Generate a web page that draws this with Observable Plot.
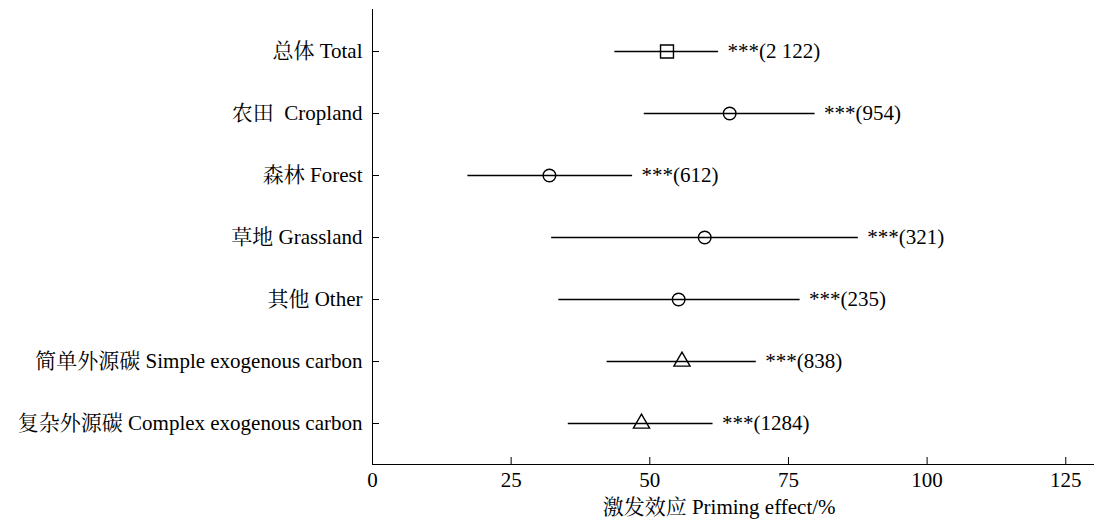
<!DOCTYPE html>
<html><head><meta charset="utf-8">
<script src="https://cdn.jsdelivr.net/npm/d3@7"></script>
<script src="https://cdn.jsdelivr.net/npm/@observablehq/plot@0.6"></script>
<style>body{margin:0;background:#fff}</style>
</head><body><div id="chart"></div>
<script>
const categories = ["总体 Total","农田\u00A0\u00A0Cropland","森林 Forest","草地 Grassland","其他 Other","简单外源碳 Simple exogenous carbon","复杂外源碳 Complex exogenous carbon"];
const means = [53.1, 64.4, 31.9, 59.9, 55.2, 55.8, 48.5];
const lows  = [43.7, 49.0, 17.2, 32.3, 33.6, 42.3, 35.3];
const highs = [62.4, 79.8, 46.9, 87.6, 77.1, 69.2, 61.4];
const labels = ["***(2 122)","***(954)","***(612)","***(321)","***(235)","***(838)","***(1284)"];
const shapes = ["square","circle","circle","circle","circle","triangle","triangle"];
const xTicks = [0, 25, 50, 75, 100, 125];
const xTitle = "激发效应 Priming effect/%";

const data = categories.map((c, i) => ({cat: c, mean: means[i], low: lows[i], high: highs[i], label: labels[i], shape: shapes[i]}));
const font = "'Liberation Serif','Times New Roman','Noto Serif CJK SC','Noto Sans CJK SC',serif";

const plot = Plot.plot({
  width: 1096, height: 522,
  marginLeft: 372, marginRight: 3, marginTop: 9, marginBottom: 58,
  style: {fontFamily: font, fontSize: "21px", color: "#000", background: "#fff"},
  x: {domain: [0, 130], ticks: xTicks, tickSize: -7, tickPadding: 15, label: null, line: true},
  y: {type: "point", domain: categories, padding: 0.64, tickSize: -7, tickPadding: 17, label: null, line: true},
  marks: [
    Plot.ruleY(data, {y: "cat", x1: "low", x2: "high", stroke: "#000", strokeWidth: 1.3}),
    Plot.dot(data.filter(d => d.shape === "square"), {x: "mean", y: "cat", symbol: "square", r: 7.3, fill: "none", stroke: "#000", strokeWidth: 1.4}),
    Plot.dot(data.filter(d => d.shape === "circle"), {x: "mean", y: "cat", symbol: "circle", r: 6.3, fill: "none", stroke: "#000", strokeWidth: 1.4}),
    Plot.dot(data.filter(d => d.shape === "triangle"), {x: "mean", y: "cat", symbol: "triangle", r: 6, fill: "none", stroke: "#000", strokeWidth: 1.4}),
    Plot.text(data, {x: "high", y: "cat", text: "label", textAnchor: "start", dx: 9, fill: "#000"}),
    Plot.text([xTitle], {x: (xTicks[0] + xTicks[xTicks.length - 1]) / 2, frameAnchor: "bottom", lineAnchor: "middle", dy: 43, text: d => d, fill: "#000"})
  ]
});
document.getElementById("chart").appendChild(plot);
</script>
</body></html>
